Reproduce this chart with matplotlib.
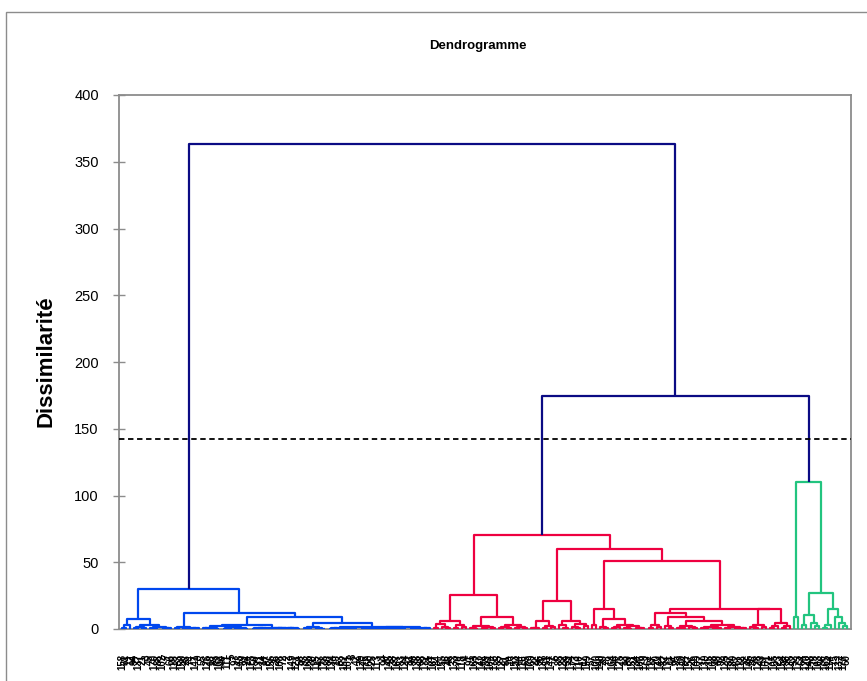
import matplotlib
matplotlib.use("Agg")
import matplotlib.pyplot as plt
from matplotlib.patches import Rectangle
from matplotlib import font_manager

names = {f.name for f in font_manager.fontManager.ttflist}
narrow = "Liberation Sans Narrow" if "Liberation Sans Narrow" in names else "Liberation Sans"
plt.rcParams['font.family'] = [narrow, 'DejaVu Sans']

# ---------------- data ----------------
title = "Dendrogramme"
ylabel = "Dissimilarité"
cut_level = 142.3
yticks = [0, 50, 100, 150, 200, 250, 300, 350, 400]

# node = [height, left, right]; leaf = position index of the observation
blue_L = [7.7, [3.0, [0.9, 0, 1], 2],
          [3.0, [1.2, [0.5, 3, 4], [0.6, 5, 6]],
                [1.5, [0.7, 7, [0.3, 8, 9]], [1.0, 10, [0.4, 11, 12]]]]]
blue_RL = [1.2, [0.6, 13, 14], [0.9, [0.4, 15, 16], [0.5, [0.2, 17, 18], 19]]]
blue_A = [2.4, [1.0, [0.4, 20, 21], [0.6, 22, [0.2, 23, 24]]],
          [1.8, [0.7, [0.3, 25, 26], 27], [1.1, [0.5, 28, 29], [0.3, 30, 31]]]]
blue_B = [1.0, [0.6, [0.3, 32, 33], [0.4, 34, [0.2, 35, 36]]],
          [0.8, [0.5, [0.2, 37, 38], [0.3, 39, 40]], [0.6, [0.4, 41, 42], [0.2, 43, 44]]]]
blue_RRRL = [1.3, [0.5, 45, [0.2, 46, 47]], [0.7, 48, [0.3, 49, 50]]]
blue_C = [0.9, [0.4, [0.2, 51, 52], 53], [0.6, [0.3, 54, 55], [0.2, 56, [0.1, 57, 58]]]]
blue_E = [0.5, [0.3, 59, [0.1, 60, 61]], [0.4, [0.2, 62, 63], [0.3, 64, [0.1, 65, 66]]]]
blue_F = [0.4, [0.2, 67, 68], [0.3, 69, 70]]
blue_G = [0.6, [0.3, 71, [0.1, 72, 73]], [0.4, [0.2, 74, 75], 76]]
blue_tree = [30.2, blue_L,
             [12.2, blue_RL,
              [9.2, [3.0, blue_A, blue_B],
               [4.7, blue_RRRL, [1.6, blue_C, [1.2, [0.8, blue_E, blue_F], blue_G]]]]]]

red_LL = [6.2, [3.5, [1.0, 77, 78], [1.5, 79, [0.5, 80, 81]]],
          [3.0, [0.8, 82, 83], [1.2, 84, 85]]]
red_LR = [9.2, [2.2, [0.8, 86, [0.3, 87, 88]], [1.4, [0.6, 89, 90], [0.4, 91, 92]]],
          [2.9, [1.2, [0.6, 93, 94], [0.4, 95, 96]], [1.8, [0.5, 97, 98], [0.7, 99, 100]]]]
red_ML = [6.2, [1.0, [0.4, 101, 102], 103], [2.5, [0.8, 104, 105], [1.2, 106, 107]]]
red_MR = [6.2, [2.8, 108, [1.0, 109, 110]],
          [3.5, [1.2, 111, [0.5, 112, 113]], [2.0, 114, 115]]]
red_A = [15.2, [3.0, 116, 117],
         [7.7, [1.5, 118, [0.6, 119, 120]],
          [3.0, [1.2, [0.5, 121, 122], 123],
           [2.0, [0.8, 124, [0.3, 125, 126]], [1.0, 127, [0.4, 128, 129]]]]]]
red_B1 = [12.2, [3.0, [1.0, 130, 131], [1.5, 132, 133]],
          [9.2, [2.5, 134, [0.8, 135, 136]],
           [6.2, [2.5, [1.0, 137, [0.4, 138, 139]], [1.5, 140, [0.6, 141, 142]]],
            [2.8, [1.8, [0.7, 143, [0.3, 144, 145]], [1.1, [0.4, 146, 147], 148]],
             [1.4, [0.6, 149, 150], [0.9, [0.3, 151, 152], [0.5, 153, 154]]]]]]]
red_B2 = [15.0, [3.0, [1.2, 155, [0.5, 156, 157]], [1.8, 158, 159]],
          [4.7, [2.0, [0.8, 160, 161], 162], [2.5, [1.0, 163, 164], 165]]]
red_tree = [70.7, [25.5, red_LL, red_LR],
            [59.9, [21.2, red_ML, red_MR],
             [50.9, red_A, [15.3, red_B1, red_B2]]]]

green_tree = [110.3, [9.2, 166, 167],
              [26.7, [10.5, [3.0, 168, 169], [4.7, 170, [2.0, 171, 172]]],
               [15.2, [3.0, [1.0, 173, 174], 175],
                [9.2, 176, [4.7, 177, [2.0, 178, 179]]]]]]

top_heights = [363.0, 174.5]   # root, right group

leaf_labels = [
    158, 61, 12, 94, 137, 21, 3, 45, 170, 88, 102, 7, 66, 119, 33, 150, 28, 74, 141, 9,
    55, 126, 18, 83, 162, 40, 111, 5, 97, 143, 69, 24, 175, 50, 131, 14, 87, 156, 36, 108,
    72, 2, 149, 121, 58, 93, 166, 30, 115, 47, 178, 80, 134, 19, 63, 152, 101, 8, 42, 129,
    76, 160, 25, 113, 1, 90, 145, 38, 167, 53, 124, 11, 99, 138, 68, 172, 31, 107, 84, 155,
    16, 48, 133, 70, 118, 4, 91, 163, 27, 142, 59, 104, 176, 35, 127, 81, 10, 153, 44, 116,
    65, 169, 22, 96, 136, 51, 147, 6, 85, 122, 39, 174, 73, 110, 17, 159, 57, 100, 140, 29,
    78, 164, 46, 125, 13, 89, 151, 34, 106, 179, 62, 117, 20, 144, 82, 171, 41, 95, 130, 54,
    157, 26, 109, 77, 139, 15, 168, 49, 92, 123, 37, 180, 67, 112, 32, 146, 86, 128, 43, 161,
    71, 105, 23, 154, 98, 135, 52, 173, 64, 120, 148, 79, 103, 56, 165, 114, 75, 132, 177, 60,
]

colors = {"blue": "#0047EE", "red": "#EE0040", "green": "#22C47F", "top": "#0B0B84"}

# -------------- layout ----------------
segments = []
counter = [0]


def layout(node, color):
    if isinstance(node, tuple):
        return layout(node[1], node[0])
    if isinstance(node, int):
        x = counter[0]
        counter[0] += 1
        return x, 0.0
    h, left, right = node
    xl, hl = layout(left, color)
    xr, hr = layout(right, color)
    segments.append(([xl, xl, xr, xr], [hl, h, h, hr], color))
    return (xl + xr) / 2.0, h


full_tree = [top_heights[0], ("blue", blue_tree),
             [top_heights[1], ("red", red_tree), ("green", green_tree)]]
layout(full_tree, "top")
n_leaves = counter[0]

# -------------- figure ----------------
W, H = 867, 681
fig = plt.figure(figsize=(W / 100, H / 100), dpi=100)
fig.patches.append(Rectangle((6 / W, -0.1), 1.2, 1 - 12 / H + 0.1, transform=fig.transFigure,
                             fill=False, edgecolor="#8C8C8C", linewidth=1.0))

ax = fig.add_axes([119 / W, (H - 629) / H, (851 - 119) / W, (629 - 95) / H])

for xs, ys, c in segments:
    ax.plot(xs, ys, color=colors[c], linewidth=1.6, solid_capstyle="butt", zorder=3)

ax.axhline(cut_level, color="black", linestyle=(0, (3, 2)), linewidth=1.3, zorder=4)

spacing = 725 / (n_leaves - 1)
ax.set_xlim(-3 / spacing, (n_leaves - 1) + 4 / spacing)
ax.set_ylim(0, 400)
ax.set_yticks(yticks)
ax.set_yticklabels([str(v) for v in yticks], fontsize=10.5)
ax.set_xticks(range(n_leaves))
ax.set_xticklabels([str(v) for v in leaf_labels[:n_leaves]], rotation=90, fontsize=7,
                   fontweight="bold")
ax.tick_params(axis="x", length=0, pad=18)
ax.tick_params(axis="y", direction="inout", length=9, width=1.0, color="#8C8C8C", pad=10)
for s in ax.spines.values():
    s.set_color("#8C8C8C")
    s.set_linewidth(1.3)
ax.spines["bottom"].set_zorder(2)

fig.text(478 / W, 1 - 46 / H, title, ha="center", va="center", fontsize=9.5, fontweight="bold")
fig.text(46 / W, 1 - 361 / H, ylabel, ha="center", va="center", rotation=90,
         fontsize=16, fontweight="bold")

fig.savefig("out.png", dpi=100)
